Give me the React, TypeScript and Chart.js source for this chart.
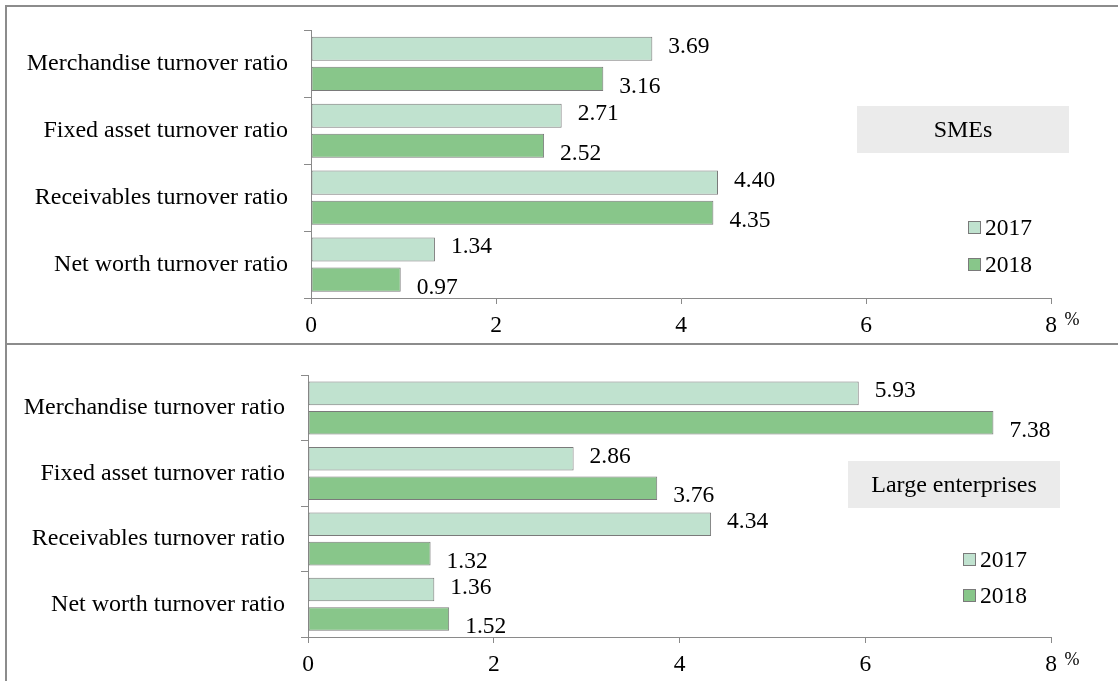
import React, { useEffect, useRef } from "react";
import { Chart, registerables } from "chart.js";

Chart.register(...registerables);

const categories = [
  "Merchandise turnover ratio",
  "Fixed asset turnover ratio",
  "Receivables turnover ratio",
  "Net worth turnover ratio",
];
const seriesLabels = ["2017", "2018"];
const smes2017 = [3.69, 2.71, 4.4, 1.34];
const smes2018 = [3.16, 2.52, 4.35, 0.97];
const large2017 = [5.93, 2.86, 4.34, 1.36];
const large2018 = [7.38, 3.76, 1.32, 1.52];
const xTicks = [0, 2, 4, 6, 8];
const panelTitles = ["SMEs", "Large enterprises"];
const unitLabel = "%";

const FONT = '"Liberation Serif", "Times New Roman", serif';
const LIGHT = "#C0E2CF";
const DARK = "#88C68A";
const EDGE = "#7A7A7A";
const AXIS = "#8A8A8A";
const FRAME = "#8C8C8C";

type PanelProps = {
  values: number[][];
  title: string;
  top: number;
  height: number;
  padTop: number;
  yWidth: number;
  xHeight: number;
  box: { x: number; y: number; w: number; h: number };
  legend: { x: number; y: number; gap: number };
  pct: { x: number; y: number };
};

function Panel(p: PanelProps) {
  const ref = useRef<HTMLCanvasElement | null>(null);
  useEffect(() => {
    if (!ref.current) return;
    const colors = [LIGHT, DARK];
    const overlay = {
      id: "overlay",
      afterDatasetsDraw(chart: any) {
        const ctx = chart.ctx;
        ctx.save();
        ctx.font = `23.5px ${FONT}`;
        ctx.fillStyle = "#000";
        ctx.textAlign = "left";
        ctx.textBaseline = "alphabetic";
        chart.data.datasets.forEach((ds: any, di: number) => {
          const meta = chart.getDatasetMeta(di);
          meta.data.forEach((el: any, i: number) => {
            const v = ds.data[i] as number;
            ctx.fillText(v.toFixed(2), el.x + 16, el.y + (di === 0 ? 4 : 14));
          });
        });
        // title box
        ctx.fillStyle = "#EBEBEB";
        ctx.fillRect(p.box.x, p.box.y, p.box.w, p.box.h);
        ctx.fillStyle = "#000";
        ctx.textAlign = "center";
        ctx.textBaseline = "middle";
        ctx.font = `24px ${FONT}`;
        ctx.fillText(p.title, p.box.x + p.box.w / 2, p.box.y + p.box.h / 2 + 1);
        // legend
        ctx.font = `23.5px ${FONT}`;
        ctx.textAlign = "left";
        ctx.textBaseline = "alphabetic";
        chart.data.datasets.forEach((ds: any, di: number) => {
          const y = p.legend.y + di * p.legend.gap;
          ctx.fillStyle = ds.backgroundColor;
          ctx.fillRect(p.legend.x + 0.5, y + 0.5, 12, 12);
          ctx.strokeStyle = EDGE;
          ctx.lineWidth = 1;
          ctx.strokeRect(p.legend.x + 0.5, y + 0.5, 12, 12);
          ctx.fillStyle = "#000";
          ctx.fillText(ds.label, p.legend.x + 17, y + 14);
        });
        // unit
        ctx.font = `18px ${FONT}`;
        ctx.textAlign = "center";
        ctx.textBaseline = "middle";
        ctx.fillText(unitLabel, p.pct.x, p.pct.y);
        ctx.restore();
      },
    };
    const chart = new Chart(ref.current, {
      type: "bar",
      data: {
        labels: categories,
        datasets: seriesLabels.map((lab, i) => ({
          label: lab,
          data: p.values[i],
          backgroundColor: colors[i],
          borderColor: EDGE,
          borderWidth: 1,
          borderSkipped: false,
          categoryPercentage: 0.9,
          barPercentage: 0.8,
        })),
      },
      options: {
        indexAxis: "y",
        responsive: false,
        animation: false,
        devicePixelRatio: 1,
        layout: { padding: { left: 0, right: 67, top: p.padTop, bottom: 0 } },
        plugins: { legend: { display: false }, tooltip: { enabled: false } },
        scales: {
          x: {
            min: 0,
            max: 8,
            afterBuildTicks: (s: any) => {
              s.ticks = xTicks.map((v) => ({ value: v }));
            },
            afterFit: (s: any) => {
              s.height = p.xHeight;
            },
            grid: { drawOnChartArea: false, drawTicks: true, tickLength: 6, color: AXIS },
            border: { color: AXIS, width: 1 },
            ticks: { font: { family: FONT, size: 23.5 }, color: "#000", padding: 8, maxRotation: 0 },
          },
          y: {
            afterFit: (s: any) => {
              s.width = p.yWidth;
            },
            grid: { drawOnChartArea: false, drawTicks: true, tickLength: 7, color: AXIS, offset: true },
            border: { color: AXIS, width: 1 },
            ticks: { font: { family: FONT, size: 24 }, color: "#000", padding: 16, autoSkip: false },
          },
        },
      },
      plugins: [overlay],
    } as any);
    return () => chart.destroy();
  }, []);
  return (
    <canvas
      ref={ref}
      width={1118}
      height={p.height}
      style={{ position: "absolute", left: 0, top: p.top, width: 1118, height: p.height }}
    />
  );
}

export default function App() {
  return (
    <div
      style={{
        position: "absolute",
        left: 0,
        top: 0,
        width: 1118,
        height: 681,
        overflow: "hidden",
        background: "#fff",
      }}
    >
      <Panel
        values={[smes2017, smes2018]}
        title={panelTitles[0]}
        top={0}
        height={344}
        padTop={29}
        yWidth={311}
        xHeight={46}
        box={{ x: 857, y: 106, w: 212, h: 47 }}
        legend={{ x: 968, y: 221, gap: 37 }}
        pct={{ x: 1072, y: 320 }}
      />
      <Panel
        values={[large2017, large2018]}
        title={panelTitles[1]}
        top={345}
        height={336}
        padTop={22}
        yWidth={308}
        xHeight={44}
        box={{ x: 848, y: 116, w: 212, h: 47 }}
        legend={{ x: 963, y: 208, gap: 36 }}
        pct={{ x: 1072, y: 315 }}
      />
      <div style={{ position: "absolute", left: 5, top: 5, width: 2, height: 700, background: FRAME }} />
      <div style={{ position: "absolute", left: 5, top: 5, width: 1200, height: 2, background: FRAME }} />
      <div style={{ position: "absolute", left: 5, top: 343, width: 1200, height: 2, background: FRAME }} />
    </div>
  );
}
